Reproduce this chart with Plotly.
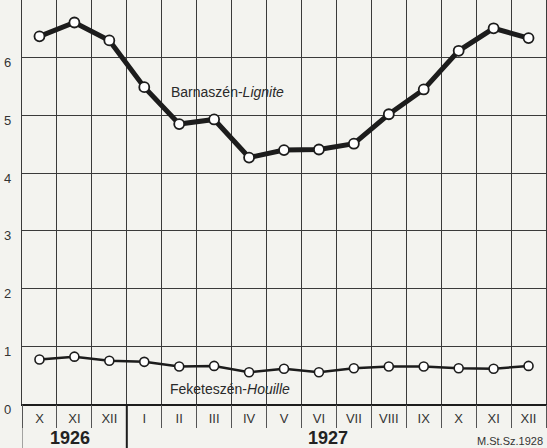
import plotly.graph_objects as go

months = ["X", "XI", "XII", "I", "II", "III", "IV", "V", "VI", "VII", "VIII", "IX", "X", "XI", "XII"]
lignite = [6.37, 6.61, 6.30, 5.49, 4.85, 4.93, 4.27, 4.40, 4.41, 4.51, 5.02, 5.45, 6.12, 6.51, 6.34]
houille = [0.77, 0.82, 0.75, 0.73, 0.65, 0.66, 0.55, 0.61, 0.55, 0.62, 0.65, 0.65, 0.62, 0.61, 0.66]
y_ticks = [0, 1, 2, 3, 4, 5, 6]
years = ["1926", "1927"]

idx = list(range(len(months)))
ink = "#1c1c1c"
grid = "#3a3a3a"
paper = "#f3f3ef"
font = "Liberation Sans"

fig = go.Figure()
fig.add_trace(go.Scatter(
    x=idx, y=lignite, mode="lines+markers",
    line=dict(color=ink, width=5),
    marker=dict(size=10, color="white", line=dict(color=ink, width=1.8)),
    hoverinfo="skip", showlegend=False))
fig.add_trace(go.Scatter(
    x=idx, y=houille, mode="lines+markers",
    line=dict(color=ink, width=2.5),
    marker=dict(size=9, color="white", line=dict(color=ink, width=1.6)),
    hoverinfo="skip", showlegend=False))

xrange = [-0.5, len(months) - 0.5]
fig.update_layout(
    width=547, height=448,
    margin=dict(l=22, r=1, t=0, b=44, autoexpand=False),
    paper_bgcolor=paper, plot_bgcolor=paper,
    font=dict(family=font, color="#2a2a2a"),
    xaxis=dict(
        range=xrange, automargin=False,
        tickmode="array", tickvals=idx, ticktext=months,
        ticks="", showgrid=False, zeroline=False,
        tickfont=dict(size=13, color="#333"),
        ticklabelstandoff=1,
        showline=True, mirror=True, linecolor=ink, linewidth=2,
        minor=dict(tickmode="linear", tick0=-0.5, dtick=1,
                   showgrid=True, gridcolor=grid, gridwidth=1.3, ticks=""),
    ),
    xaxis2=dict(
        range=xrange, overlaying="x", anchor="y", side="bottom", automargin=False,
        tickmode="linear", tick0=-0.5, dtick=1, showticklabels=False,
        ticks="outside", ticklen=23, tickcolor="#555", tickwidth=1,
        showgrid=False, zeroline=False, showline=False,
    ),
    yaxis=dict(
        range=[0, 7], tickmode="array", tickvals=y_ticks, automargin=False,
        showgrid=True, gridcolor=grid, gridwidth=1.3,
        zeroline=True, zerolinecolor=ink, zerolinewidth=2.5,
        tickfont=dict(size=13, color="#333"),
        ticks="", ticklabelshift=5, ticklabelstandoff=7,
        showline=True, mirror=True, linecolor=grid, linewidth=1.3,
    ),
)

# invisible trace to activate the secondary x axis (tick separators)
fig.add_trace(go.Scatter(x=[idx[0]], y=[lignite[0]], xaxis="x2", mode="markers",
                         marker=dict(opacity=0), hoverinfo="skip", showlegend=False))

# year divider extending below the axis
fig.add_shape(type="line", xref="x", yref="paper", x0=2.5, x1=2.5, y0=0, y1=-0.11,
              line=dict(color=ink, width=2))
fig.add_shape(type="line", xref="x", yref="paper", x0=-0.5, x1=-0.5, y0=0, y1=-0.11,
              line=dict(color="#555", width=1))

fig.add_annotation(x=0.86, y=-0.084, xref="x", yref="paper", yanchor="middle",
                   text="<b>" + years[0] + "</b>",
                   showarrow=False, font=dict(size=18, color="#222", family=font))
fig.add_annotation(x=8.25, y=-0.084, xref="x", yref="paper", yanchor="middle",
                   text="<b>" + years[1] + "</b>",
                   showarrow=False, font=dict(size=18, color="#222", family=font))
fig.add_annotation(x=0.999, y=-0.091, xref="paper", yref="paper", xanchor="right", yanchor="middle",
                   text="M.St.Sz.1928",
                   showarrow=False, font=dict(size=11, color="#333", family=font))

fig.add_annotation(x=3.70, y=5.41, xref="x", yref="y", xanchor="left", yanchor="middle",
                   text="Barnaszén-<i>Lignite</i>", showarrow=False,
                   font=dict(size=14, color="#2a2a2a", family=font))
fig.add_annotation(x=3.68, y=0.26, xref="x", yref="y", xanchor="left", yanchor="middle",
                   text="Feketeszén-<i>Houille</i>", showarrow=False,
                   font=dict(size=14, color="#2a2a2a", family=font))

fig.write_html(
    "out.html",
    config={"displayModeBar": False},
    post_script="document.body.style.margin='0';document.body.style.overflow='hidden';"
                "document.documentElement.style.background='" + paper + "';",
)
